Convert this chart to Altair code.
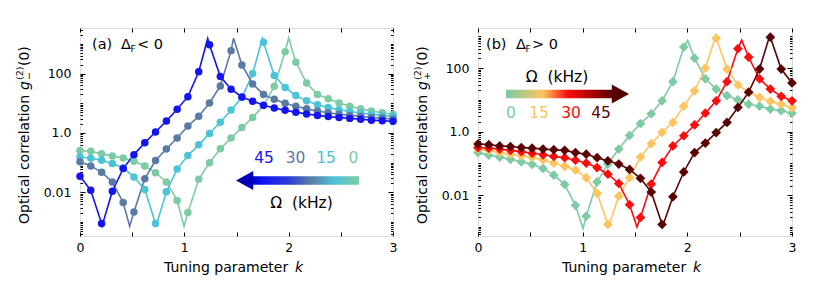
import altair as alt
import pandas as pd

FONT = "DejaVu Sans"

# tuning parameter k at the markers
K = [0.0, 0.103, 0.207, 0.31, 0.414, 0.517, 0.621, 0.724, 0.828, 0.931,
     1.034, 1.138, 1.241, 1.345, 1.448, 1.552, 1.655, 1.759, 1.862, 1.966,
     2.069, 2.172, 2.276, 2.379, 2.483, 2.586, 2.69, 2.793, 2.897, 3.0]

OMEGA = ["0", "15", "30", "45"]

# ---- panel (a): log10 g_-^(2)(0) read at the markers
A0 = [-0.59, -0.62, -0.70, -0.78, -0.84, -0.95, -1.11, -1.34, -1.65, -2.27,
      -2.68, -1.56, -1.00, -0.53, -0.17, 0.18, 0.52, 0.92, 1.57, 2.73,
      2.38, 1.68, 1.29, 1.15, 1.01, 0.90, 0.81, 0.74, 0.68, 0.63]
A15 = [-0.81, -0.85, -0.92, -1.03, -1.18, -1.48, -1.90, -3.05, -1.98, -1.21,
       -0.76, -0.40, -0.02, 0.36, 0.77, 1.19, 2.00, 3.05, 1.93, 1.53,
       1.26, 1.08, 0.95, 0.86, 0.78, 0.72, 0.67, 0.62, 0.59, 0.56]
A30 = [-0.97, -1.11, -1.32, -1.65, -2.34, -2.66, -1.54, -0.93, -0.54, -0.17,
       0.23, 0.56, 1.01, 1.58, 2.77, 2.29, 1.65, 1.29, 1.13, 1.00,
       0.90, 0.81, 0.74, 0.68, 0.63, 0.59, 0.56, 0.52, 0.50, 0.47]
A45 = [-1.46, -1.93, -3.05, -1.96, -1.20, -0.73, -0.33, 0.03, 0.40, 0.80,
       1.22, 2.06, 2.97, 1.90, 1.47, 1.21, 1.07, 0.93, 0.84, 0.76,
       0.70, 0.64, 0.59, 0.55, 0.52, 0.49, 0.46, 0.43, 0.41, 0.39]
# dip and peak of each curve (k, log10 g)
A_CUSP_K = {"0": [0.997, 2.0], "15": [0.73, 1.748], "30": [0.476, 1.472], "45": [0.212, 1.224]}
A_CUSP_LOG = {"0": [-3.15, 3.2], "15": [-3.12, 3.18], "30": [-3.14, 3.19], "45": [-3.12, 3.18]}

# ---- panel (b): log10 g_+^(2)(0)
B0 = [-0.66, -0.74, -0.80, -0.87, -0.95, -1.03, -1.16, -1.37, -1.66, -2.32,
      -2.66, -1.58, -1.02, -0.55, -0.12, 0.25, 0.56, 0.97, 1.57, 2.66,
      2.31, 1.66, 1.34, 1.13, 1.00, 0.86, 0.80, 0.71, 0.66, 0.58]
B15 = [-0.55, -0.59, -0.66, -0.71, -0.76, -0.81, -0.89, -0.99, -1.09, -1.21,
       -1.45, -1.94, -2.92, -2.03, -1.45, -0.80, -0.38, -0.02, 0.29, 0.80,
       1.28, 2.00, 2.94, 1.97, 1.47, 1.24, 1.08, 0.95, 0.86, 0.75]
B30 = [-0.50, -0.52, -0.55, -0.59, -0.63, -0.68, -0.73, -0.78, -0.82, -0.90,
       -0.99, -1.13, -1.34, -1.63, -2.30, -2.70, -1.65, -0.97, -0.45, -0.13,
       0.21, 0.58, 0.97, 1.57, 2.61, 2.34, 1.66, 1.34, 1.11, 0.97]
B45 = [-0.39, -0.41, -0.45, -0.47, -0.50, -0.52, -0.55, -0.57, -0.59, -0.66,
       -0.71, -0.82, -0.92, -1.02, -1.19, -1.47, -1.90, -2.92, -2.05, -1.27,
       -0.66, -0.36, -0.03, 0.29, 0.76, 1.24, 1.97, 2.97, 1.97, 1.53]
B_CUSP_K = {"0": [1.003, 2.003], "15": [1.245, 2.268], "30": [1.519, 2.519], "45": [1.765, 2.785]}
B_CUSP_LOG = {"0": [-3.05, 2.87], "15": [-3.0, 2.98], "30": [-3.0, 2.88], "45": [-2.97, 3.0]}

A_COLORS = ["#7ccba4", "#4dc3d9", "#5a7aa6", "#1414f0"]
B_COLORS = ["#7ccba4", "#fec460", "#fb0d0d", "#5a0303"]

X_TICKS = [0, 0.5, 1, 1.5, 2, 2.5, 3]
Y_LABELS = {0.01: "0.01", 1: "1.0", 100: "100"}
OMEGA_LABEL = "Ω\u00a0\u00a0(kHz)"


def log_ticks(lo_exp, hi_exp, lo, hi):
    out = []
    for e in range(lo_exp, hi_exp + 1):
        for m in range(1, 10):
            v = round(m * 10.0 ** e, 12)
            if lo <= v <= hi:
                out.append(v)
    return out


def frames(series, cusp_k, cusp_log):
    pts, lines = [], []
    for om in OMEGA:
        rows = [{"k": k, "g": 10 ** v, "om": om} for k, v in zip(K, series[om])]
        pts += rows
        extra = [{"k": k, "g": 10 ** v, "om": om} for k, v in zip(cusp_k[om], cusp_log[om])]
        lines += sorted(rows + extra, key=lambda r: r["k"])
    return pd.DataFrame(lines), pd.DataFrame(pts)


ONE = pd.DataFrame({"z": [0]})


def txt(s, x, y, size=14, color="black", align="left", angle=0, style="normal"):
    return alt.Chart(ONE).mark_text(
        text=s, align=align, baseline="alphabetic", fontSize=size, font=FONT,
        fontStyle=style, angle=angle, color=color
    ).encode(x=alt.value(x), y=alt.value(y))


LEFT_ARROW = "M -1 0 L -0.72 -0.155 L -0.72 -0.07 L 1 -0.07 L 1 0.07 L -0.72 0.07 L -0.72 0.155 Z"
RIGHT_ARROW = "M 1 0 L 0.72 -0.155 L 0.72 -0.07 L -1 -0.07 L -1 0.07 L 0.72 0.07 L 0.72 0.155 Z"


def arrow(path, stops, x, y):
    grad = alt.LinearGradient(
        gradient="linear", x1=0, x2=1, y1=0, y2=0,
        stops=[alt.GradientStop(offset=o, color=c) for o, c in stops])
    return alt.Chart(ONE).mark_point(
        shape=path, size=15129, filled=True, fill=grad, strokeWidth=0, opacity=1
    ).encode(x=alt.value(x), y=alt.value(y))


MAJOR = "datum.value == 0.01 || datum.value == 1 || datum.value == 100"
LABEL_EXPR = "datum.value == 0.01 ? '0.01' : datum.value == 1 ? '1.0' : datum.value == 100 ? '100' : ''"


def panel(series, cusp_k, cusp_log, colors, shape, msize, ydom, width, sub, texts):
    line_df, pt_df = frames(series, cusp_k, cusp_log)
    yt = log_ticks(-4, 3, ydom[0], ydom[1])
    xs = alt.Scale(domain=[0, 3], nice=False, zero=False)
    ys = alt.Scale(type="log", domain=ydom, nice=False)
    col = alt.Color("om:N", scale=alt.Scale(domain=OMEGA, range=colors), legend=None)
    ysize = {"condition": {"test": MAJOR, "value": -5}, "value": -2.5}
    ax_left = alt.Axis(orient="left", values=yt, labelExpr=LABEL_EXPR, title=None, grid=False,
                       domain=False, tickSize=ysize, labelPadding=14, labelFont=FONT,
                       labelFontSize=12.5, labelColor="black", tickColor="black", labelOverlap=False)
    ax_right = alt.Axis(orient="right", values=yt, labels=False, title=None, grid=False,
                        domain=False, tickSize=ysize, tickColor="black")
    ax_bottom = alt.Axis(orient="bottom", values=X_TICKS,
                         labelExpr="datum.value % 1 == 0 ? '' + datum.value : ''",
                         title=None, grid=False, domain=False, tickSize={"expr": "-4"},
                         labelPadding=9, labelFont=FONT, labelFontSize=12.5, labelColor="black",
                         tickColor="black", labelFlush=False, labelOverlap=False)
    ax_top = alt.Axis(orient="top", values=X_TICKS, labels=False, title=None, grid=False,
                      domain=False, tickSize={"expr": "-4"}, tickColor="black")
    lines = alt.Chart(line_df).mark_line(strokeWidth=1.6).encode(
        x=alt.X("k:Q", scale=xs, axis=ax_bottom),
        y=alt.Y("g:Q", scale=ys, axis=ax_left),
        color=col)
    pts = alt.Chart(pt_df).mark_point(shape=shape, filled=True, size=msize, opacity=1).encode(
        x=alt.X("k:Q", scale=xs, axis=ax_top),
        y=alt.Y("g:Q", scale=ys, axis=ax_right),
        color=col)
    titles = [
        txt("Optical correlation", -51, 196, angle=270),
        txt("g", -51, 62, angle=270, style="italic"),
        txt("(2)", -57, 52, size=9.5, angle=270),
        txt(sub, -48, 52, size=9.5, angle=270),
        txt("(0)", -51, 38, angle=270),
        txt("Tuning parameter", 84, 244),
        txt("k", 215, 244, style="italic"),
    ]
    return alt.layer(lines, pts, *titles, *texts).resolve_axis(
        x="independent", y="independent").properties(width=width, height=208)


A_SERIES = {"0": A0, "15": A15, "30": A30, "45": A45}
B_SERIES = {"0": B0, "15": B15, "30": B30, "45": B45}

A_TEXTS = [
    txt("(a)", 12, 21, size=14.5), txt("Δ", 41, 21, size=14.5), txt("F", 50.5, 24, size=9),
    txt("< 0", 57, 21, size=14.5),
    txt("45", 184, 135, size=15.5, color=A_COLORS[3], align="center"),
    txt("30", 215.5, 135, size=15.5, color=A_COLORS[2], align="center"),
    txt("15", 246, 135, size=15.5, color=A_COLORS[1], align="center"),
    txt("0", 273.5, 135, size=15.5, color=A_COLORS[0], align="center"),
    arrow(LEFT_ARROW, [(0, "#00009a"), (0.14, "#0000c8"), (0.2, "#1010f5"), (0.42, "#2a3ad8"),
                       (0.6, "#5a7aa6"), (0.8, "#4dc3d9"), (1, "#7ccba4")], 217.5, 152.5),
    txt(OMEGA_LABEL, 221.5, 179.5, size=15.5, align="center"),
]
B_TEXTS = [
    txt("(b)", 8, 21, size=14.5), txt("Δ", 38, 21, size=14.5), txt("F", 47.5, 24, size=9),
    txt("> 0", 54, 21, size=14.5),
    txt(OMEGA_LABEL, 79, 54, size=15.5, align="center"),
    arrow(RIGHT_ARROW, [(0, "#7ccba4"), (0.3, "#fec460"), (0.5, "#fb1010"), (0.72, "#a00000"),
                        (0.86, "#5a0303"), (1, "#4a0000")], 89.5, 66),
    txt("0", 33, 89.5, size=15.5, color=B_COLORS[0], align="center"),
    txt("15", 61, 89.5, size=15.5, color=B_COLORS[1], align="center"),
    txt("30", 93, 89.5, size=15.5, color=B_COLORS[2], align="center"),
    txt("45", 123, 89.5, size=15.5, color=B_COLORS[3], align="center"),
]

pa = panel(A_SERIES, A_CUSP_K, A_CUSP_LOG, A_COLORS, "circle", 56, [3.4e-4, 3400], 313, "−", A_TEXTS)
pb = panel(B_SERIES, B_CUSP_K, B_CUSP_LOG, B_COLORS, "diamond", 95, [5.2e-4, 1820], 314, "+", B_TEXTS)

chart = alt.HConcatChart(hconcat=[pa, pb], spacing=85, bounds="flush").resolve_scale(
    color="independent", x="independent", y="independent"
).properties(
    padding={"left": 6, "top": 15, "right": 5, "bottom": 5}
).configure_view(stroke="black", strokeWidth=1.3).configure(background="white")

chart.save("out.html", embed_options={"renderer": "svg", "actions": False})
